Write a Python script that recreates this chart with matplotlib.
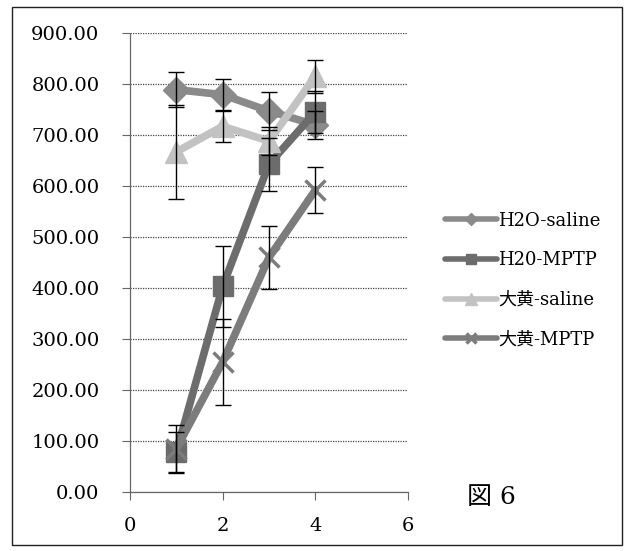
import matplotlib

matplotlib.use("Agg")
import matplotlib.pyplot as plt
from matplotlib.patches import Rectangle

plt.rcParams["font.family"] = ["DejaVu Serif", "Noto Sans CJK JP"]

x = [1, 2, 3, 4]
series_names = ["H2O-saline", "H20-MPTP", "大黄-saline", "大黄-MPTP"]
h2o_saline = [789, 779, 747, 720]
h2o_saline_err = [35, 30, 38, 28]
h2o_mptp = [78, 403, 643, 745]
h2o_mptp_err = [39, 79, 52, 42]
daio_saline = [667, 717, 688, 815]
daio_saline_err = [92, 30, 28, 33]
daio_mptp = [85, 255, 460, 592]
daio_mptp_err = [47, 85, 62, 45]

y_ticks = [0, 100, 200, 300, 400, 500, 600, 700, 800, 900]
x_ticks = [0, 2, 4, 6]

means = [h2o_saline, h2o_mptp, daio_saline, daio_mptp]
errs = [h2o_saline_err, h2o_mptp_err, daio_saline_err, daio_mptp_err]
colors = ["#8a8a8a", "#6c6c6c", "#c2c2c2", "#7c7c7c"]
markers = ["D", "s", "^", "x"]
msizes = [13, 15, 16, 14]

W, H = 632, 551
fig = plt.figure(figsize=(W / 100, H / 100), dpi=100)
fig.patch.set_facecolor("white")

# frame around the whole figure
fig.patches.append(
    Rectangle((12 / W, 1 - 545 / H), 610 / W, 538 / H, transform=fig.transFigure,
              fill=False, edgecolor="#222222", linewidth=1.0)
)

ax = fig.add_axes([130 / W, 1 - 492 / H, 278 / W, 459 / H])

for name, m, e, c, mk, ms in zip(series_names, means, errs, colors, markers, msizes):
    ax.plot(x, m, color=c, linewidth=5.5, marker=mk, markersize=ms,
            markeredgecolor=c, markeredgewidth=2.5 if mk == "x" else 1,
            label=name, zorder=3, solid_capstyle="round")
    ax.errorbar(x, m, yerr=e, fmt="none", ecolor="black", elinewidth=1.0,
                capsize=6, capthick=1.0, zorder=4)

ax.set_xlim(0, 6)
ax.set_ylim(0, 900)
ax.set_xticks(x_ticks)
ax.set_yticks(y_ticks)
ax.set_yticklabels([f"{v:.2f}" for v in y_ticks])
ax.tick_params(axis="y", length=6, width=0.8, color="#666666", pad=16, labelsize=14)
ax.tick_params(axis="x", length=6, width=0.8, color="#666666", pad=12, labelsize=14)
ax.grid(axis="y", color="#444444", linestyle=(0, (1, 1)), linewidth=0.9, zorder=0)
ax.set_axisbelow(True)

for side in ["top", "right"]:
    ax.spines[side].set_visible(False)
for side in ["left", "bottom"]:
    ax.spines[side].set_color("#666666")
    ax.spines[side].set_linestyle((0, (1, 1)))
    ax.spines[side].set_linewidth(0.9)

fig.legend(loc="center left", bbox_to_anchor=(445 / W, 1 - 280 / H), frameon=False,
           fontsize=13, handlelength=2.9, handletextpad=0.05, labelspacing=1.2,
           borderpad=0, borderaxespad=0, numpoints=1, markerscale=0.5)
for line in fig.legends[0].get_lines():
    line.set_linewidth(4)

fig.text(467 / W, 1 - 498 / H, "図 6", fontsize=18, va="center", ha="left")

fig.savefig("out.png", dpi=100, facecolor="white")
